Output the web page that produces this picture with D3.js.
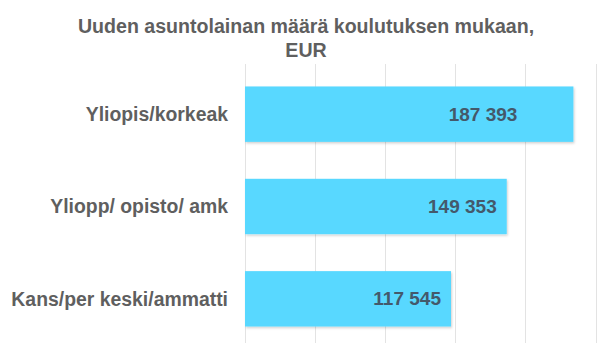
<!DOCTYPE html>
<html><head><meta charset="utf-8">
<script src="https://cdn.jsdelivr.net/npm/d3@7"></script>
<style>body{margin:0;background:#fff}svg{display:block}</style>
</head><body>
<script>
const categories = ["Yliopis/korkeak", "Yliopp/ opisto/ amk", "Kans/per keski/ammatti"];
const values = [187393, 149353, 117545];
const labels = ["187 393", "149 353", "117 545"];
const xTicks = [0, 40000, 80000, 120000, 160000, 200000];
const titleLines = ["Uuden asuntolainan määrä koulutuksen mukaan,", "EUR"];

const W = 611, H = 359;
const svg = d3.select("body").append("svg").attr("width", W).attr("height", H);
const defs = svg.append("defs");
const f = defs.append("filter").attr("id","sh").attr("x","-5%").attr("y","-10%").attr("width","115%").attr("height","130%");
f.append("feDropShadow").attr("dx",1).attr("dy",1.5).attr("stdDeviation",1).attr("flood-color","#000").attr("flood-opacity",0.18);

const x = d3.scaleLinear().domain([0, 200000]).range([245, 595.5]);
const y = d3.scaleBand().domain(categories).range([68, 345]).paddingInner(0.4).paddingOuter(0.2);

// gridlines
svg.append("g").selectAll("line").data(xTicks).join("line")
  .attr("x1", d => Math.round(x(d)) + 0.5).attr("x2", d => Math.round(x(d)) + 0.5)
  .attr("y1", 64).attr("y2", 343)
  .attr("stroke", "#e3e3e3").attr("stroke-width", 1);

// title
svg.append("g").selectAll("text").data(titleLines).join("text")
  .attr("x", 306).attr("y", (d, i) => 33 + i * 23.5)
  .attr("text-anchor", "middle")
  .attr("font-family", "Liberation Sans, Arial, sans-serif")
  .attr("font-weight", "bold").attr("font-size", 19.6)
  .attr("fill", "#5f5f5f").text(d => d);

// bars
svg.append("g").selectAll("rect").data(values).join("rect")
  .attr("x", x(0)).attr("y", (d, i) => y(categories[i]))
  .attr("width", d => x(d) - x(0)).attr("height", y.bandwidth())
  .attr("fill", "#58d8ff").attr("filter", "url(#sh)");

// category labels
svg.append("g").selectAll("text").data(categories).join("text")
  .attr("x", 228).attr("y", d => y(d) + y.bandwidth() / 2)
  .attr("dy", "0.35em").attr("text-anchor", "end")
  .attr("font-family", "Liberation Sans, Arial, sans-serif")
  .attr("font-weight", "bold").attr("font-size", 19.4)
  .attr("fill", "#5f5f5f").text(d => d);

// value labels
const inset = [56, 10, 10];
svg.append("g").selectAll("text").data(values).join("text")
  .attr("x", (d, i) => x(d) - inset[i])
  .attr("y", (d, i) => y(categories[i]) + y.bandwidth() / 2)
  .attr("dy", "0.35em").attr("text-anchor", "end")
  .attr("font-family", "Liberation Sans, Arial, sans-serif")
  .attr("font-weight", "bold").attr("font-size", 19)
  .attr("fill", "#44596b").text((d, i) => labels[i]);
</script>
</body></html>
